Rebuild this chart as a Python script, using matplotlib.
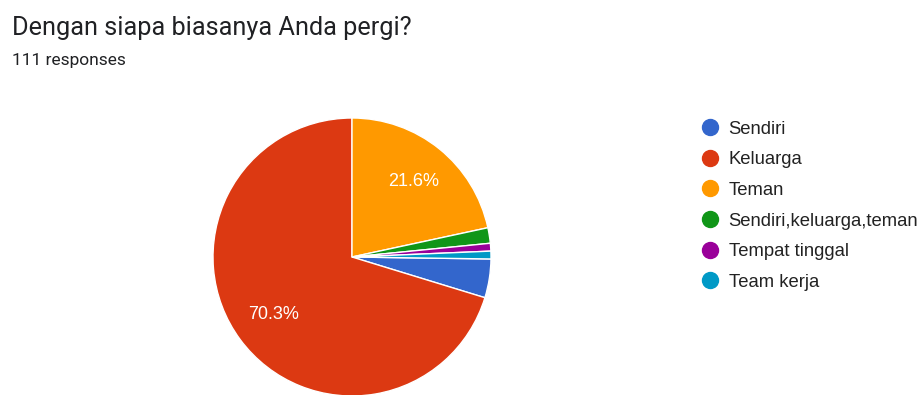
import matplotlib
matplotlib.use("Agg")
import matplotlib.pyplot as plt
from matplotlib.lines import Line2D

# Survey answers, in the order they appear in the legend.
labels = ["Sendiri", "Keluarga", "Teman", "Sendiri,keluarga,teman",
          "Tempat tinggal", "Team kerja"]
counts = [5, 78, 24, 2, 1, 1]
colors = ["#3366cc", "#dc3912", "#ff9900", "#109618", "#990099", "#0099c6"]

title = "Dengan siapa biasanya Anda pergi?"
subtitle = "111 responses"

total = sum(counts)

fig = plt.figure(figsize=(9.24, 3.95), dpi=100, facecolor="white")

fig.text(12 / 924, 1 - 28 / 395, title, fontsize=18.2, family="Roboto",
         color="#202124", va="center", ha="left")
fig.text(12 / 924, 1 - 60 / 395, subtitle, fontsize=12.5, family="Roboto",
         color="#202124", va="center", ha="left")

# Pie axes: centre at (352, 257) px from the top-left, radius ~140 px.
r_px = 141
cx, cy = 352, 395 - 257
ax = fig.add_axes([(cx - r_px) / 924, (cy - r_px) / 395,
                   2 * r_px / 924, 2 * r_px / 395])

# The first slice ends up just below 3 o'clock, so Teman starts at 12.
start = 90 + 360 * (counts[0] + counts[1]) / total


def pct_label(p):
    return "%.1f%%" % p if p > 5 else ""


wedges, texts, autotexts = ax.pie(
    counts, colors=colors, startangle=start, counterclock=False,
    radius=1.0, autopct=pct_label, pctdistance=0.7,
    wedgeprops=dict(edgecolor="white", linewidth=1.0),
    textprops=dict(color="white", fontsize=13, family="Liberation Sans"))

ax.set_xlim(-141 / 139, 141 / 139)
ax.set_ylim(-141 / 139, 141 / 139)
ax.set_aspect("equal")
ax.axis("off")

# Legend with round markers.
handles = [Line2D([], [], marker="o", linestyle="none", markersize=11.5,
                  markerfacecolor=c, markeredgecolor=c) for c in colors]
fig.legend(handles, labels, loc="upper left",
           bbox_to_anchor=(701 / 924, 1 - 120.5 / 395), frameon=False,
           handlelength=1.0, handletextpad=0.5,
           labelspacing=0.74, borderpad=0.0, borderaxespad=0.0,
           labelcolor="#222222",
           prop=dict(family="Liberation Sans", size=13.3))

fig.savefig("out.png", dpi=100, facecolor="white")
